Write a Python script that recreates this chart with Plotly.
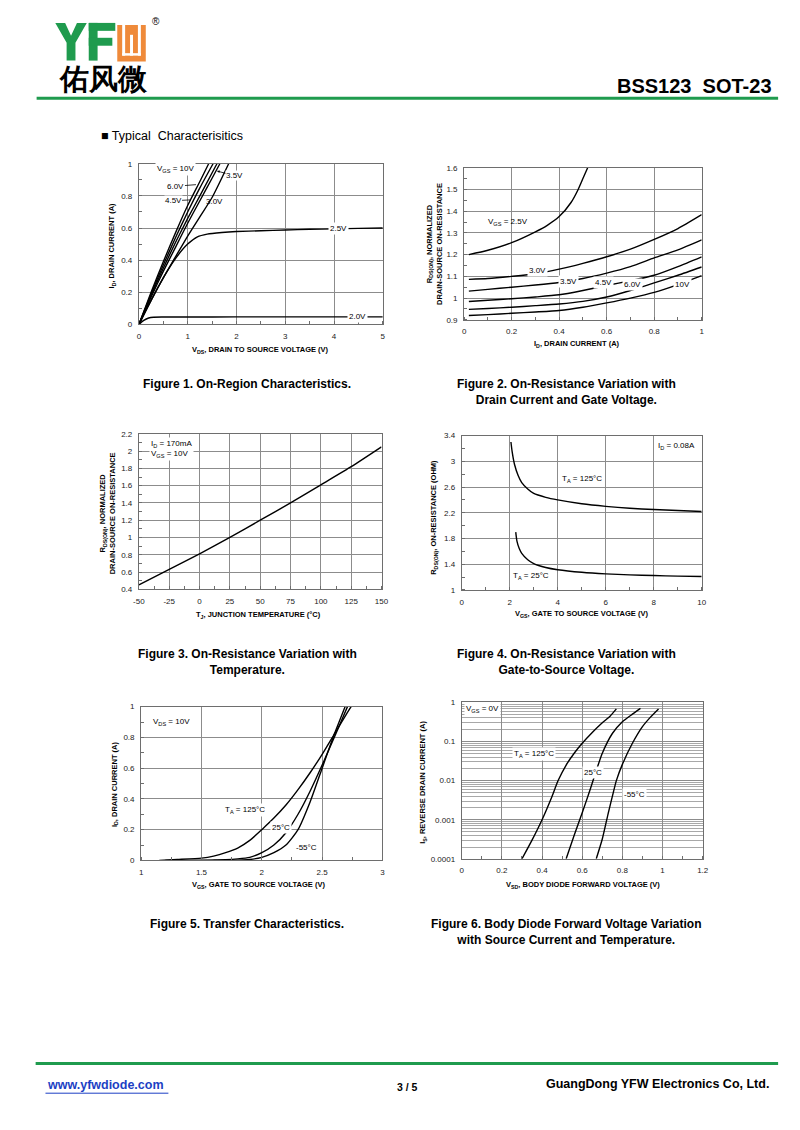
import plotly.graph_objects as go

# The page body keeps the browser's 8px margin, so the figure is 16px smaller than the
# window and every reference pixel position is shifted by that margin.
PAGE_W, PAGE_H = 800, 1130
MARGIN = 8
W, H = PAGE_W - 2 * MARGIN, PAGE_H - 2 * MARGIN
FONT = "Arial, Liberation Sans, Helvetica, sans-serif"
GRID = "#8c8c8c"
FRAME = "#6e6e6e"

def fx(px):
    return (px - MARGIN) / W

def fy(py):
    return 1 - (py - MARGIN) / H

# ---------------- Figure 1 data: On-Region Characteristics ----------------
f1_v10_x = [0, 0.25, 0.5, 0.75, 1.0, 1.25, 1.43]
f1_v10_y = [0, 0.20, 0.39, 0.57, 0.74, 0.89, 1.0]
f1_v6_x = [0, 0.25, 0.5, 0.75, 1.0, 1.25, 1.52]
f1_v6_y = [0, 0.19, 0.37, 0.54, 0.70, 0.85, 1.0]
f1_v45_x = [0, 0.25, 0.5, 0.75, 1.0, 1.25, 1.60]
f1_v45_y = [0, 0.18, 0.35, 0.51, 0.66, 0.80, 1.0]
f1_v35_x = [0, 0.25, 0.5, 0.75, 1.0, 1.25, 1.5, 1.66]
f1_v35_y = [0, 0.17, 0.33, 0.48, 0.63, 0.77, 0.91, 1.0]
f1_v30_x = [0, 0.25, 0.5, 0.75, 1.0, 1.25, 1.5, 1.84]
f1_v30_y = [0, 0.15, 0.29, 0.42, 0.55, 0.67, 0.79, 1.0]
f1_v25_x = [0, 0.25, 0.5, 0.75, 1.0, 1.2, 1.4, 1.7, 2.0, 2.5, 3.0, 3.5, 4.0, 4.5, 5.0]
f1_v25_y = [0, 0.15, 0.29, 0.41, 0.50, 0.545, 0.562, 0.572, 0.578, 0.583, 0.588, 0.592, 0.595, 0.598, 0.60]
f1_v20_x = [0, 0.1, 0.2, 0.3, 0.5, 1.0, 2.0, 3.0, 4.0, 5.0]
f1_v20_y = [0, 0.025, 0.040, 0.045, 0.046, 0.046, 0.047, 0.047, 0.047, 0.047]

# ---------------- Figure 2 data: Normalized Rds(on) vs Id ----------------
f2_x = [0.02, 0.1, 0.2, 0.3, 0.4, 0.5, 0.6, 0.7, 0.8, 0.9, 1.0]
f2_v25_x = [0.02, 0.1, 0.2, 0.3, 0.35, 0.4, 0.45, 0.48, 0.5, 0.52]
f2_v25_y = [1.20, 1.22, 1.255, 1.305, 1.335, 1.375, 1.44, 1.50, 1.55, 1.60]
f2_v30_y = [1.086, 1.09, 1.10, 1.112, 1.133, 1.16, 1.19, 1.225, 1.27, 1.32, 1.384]
f2_v35_y = [1.032, 1.04, 1.05, 1.06, 1.072, 1.09, 1.115, 1.145, 1.185, 1.222, 1.268]
f2_v45_y = [0.984, 0.99, 0.997, 1.005, 1.015, 1.035, 1.058, 1.08, 1.105, 1.145, 1.19]
f2_v6_y = [0.948, 0.952, 0.958, 0.965, 0.973, 0.985, 1.005, 1.035, 1.07, 1.105, 1.143]
f2_v10_y = [0.92, 0.924, 0.93, 0.936, 0.943, 0.958, 0.978, 1.0, 1.026, 1.062, 1.103]

# ---------------- Figure 3 data: Rds(on) vs temperature ----------------
f3_t = [-50, -25, 0, 25, 50, 75, 100, 125, 150]
f3_r = [0.45, 0.63, 0.81, 1.0, 1.2, 1.4, 1.61, 1.82, 2.05]

# ---------------- Figure 4 data: Rds(on) vs Vgs ----------------
f4_125_x = [2.05, 2.1, 2.2, 2.35, 2.5, 2.75, 3.0, 3.5, 4.0, 5.0, 6.0, 7.0, 8.0, 9.0, 10.0]
f4_125_y = [3.30, 3.15, 2.95, 2.78, 2.67, 2.57, 2.50, 2.44, 2.40, 2.34, 2.30, 2.27, 2.25, 2.235, 2.22]
f4_25_x = [2.25, 2.3, 2.4, 2.5, 2.75, 3.0, 3.5, 4.0, 5.0, 6.0, 7.0, 8.0, 9.0, 10.0]
f4_25_y = [1.90, 1.76, 1.64, 1.57, 1.47, 1.41, 1.35, 1.315, 1.275, 1.25, 1.235, 1.225, 1.215, 1.21]

# ---------------- Figure 5 data: Transfer characteristics ----------------
f5_125_x = [1.15, 1.3, 1.5, 1.6, 1.7, 1.8, 1.9, 2.0, 2.1, 2.2, 2.3, 2.4, 2.5, 2.6, 2.7, 2.74]
f5_125_y = [0.0, 0.006, 0.015, 0.028, 0.05, 0.08, 0.13, 0.20, 0.275, 0.36, 0.46, 0.57, 0.69, 0.82, 0.95, 1.0]
f5_25_x = [1.2, 1.5, 1.7, 1.8, 1.9, 2.0, 2.1, 2.2, 2.3, 2.4, 2.5, 2.6, 2.65, 2.71]
f5_25_y = [0.0, 0.002, 0.005, 0.01, 0.02, 0.05, 0.10, 0.18, 0.30, 0.45, 0.62, 0.80, 0.89, 1.0]
f5_55_x = [1.6, 1.8, 1.9, 2.0, 2.1, 2.2, 2.3, 2.4, 2.5, 2.6, 2.65, 2.69]
f5_55_y = [0.0, 0.002, 0.006, 0.02, 0.05, 0.10, 0.20, 0.38, 0.60, 0.82, 0.92, 1.0]

# ---------------- Figure 6 data: Body diode forward voltage ----------------
f6_125_x = [0.30, 0.35, 0.40, 0.45, 0.48, 0.52, 0.56, 0.60, 0.65, 0.70, 0.74, 0.77]
f6_125_y = [1e-4, 3e-4, 1e-3, 4e-3, 1e-2, 2.5e-2, 5e-2, 0.09, 0.17, 0.30, 0.45, 0.68]
f6_25_x = [0.52, 0.56, 0.60, 0.64, 0.67, 0.70, 0.75, 0.80, 0.85, 0.89]
f6_25_y = [1e-4, 4e-4, 1.5e-3, 6e-3, 1.8e-2, 5e-2, 0.16, 0.32, 0.50, 0.70]
f6_55_x = [0.67, 0.70, 0.73, 0.755, 0.77, 0.80, 0.85, 0.90, 0.94, 0.98]
f6_55_y = [1e-4, 3.2e-4, 1.5e-3, 5e-3, 1e-2, 2.6e-2, 0.09, 0.24, 0.42, 0.68]

# ---------------- Layout geometry (page pixels) ----------------
boxes = {
    1: ((135, 383), (161, 323)),
    2: ((465.7, 707.3), (165, 318.3)),
    3: ((135, 381.7), (433.3, 590)),
    4: ((463.3, 707.3), (435, 590.7)),
    5: ((137.3, 382.7), (708.3, 863.3)),
    6: ((463.3, 708.3), (704, 861.7)),
}

fig = go.Figure()

def line(n, x, y, w=1.4):
    sfx = "" if n == 1 else str(n)
    fig.add_trace(go.Scatter(x=x, y=y, mode="lines", xaxis="x" + sfx, yaxis="y" + sfx,
                             line=dict(color="black", width=w, shape="spline", smoothing=0.6),
                             showlegend=False, hoverinfo="skip"))

line(1, f1_v10_x, f1_v10_y)
line(1, f1_v6_x, f1_v6_y)
line(1, f1_v45_x, f1_v45_y)
line(1, f1_v35_x, f1_v35_y)
line(1, f1_v30_x, f1_v30_y)
line(1, f1_v25_x, f1_v25_y)
line(1, f1_v20_x, f1_v20_y)

line(2, f2_v25_x, f2_v25_y)
line(2, f2_x, f2_v30_y)
line(2, f2_x, f2_v35_y)
line(2, f2_x, f2_v45_y)
line(2, f2_x, f2_v6_y)
line(2, f2_x, f2_v10_y)

line(3, f3_t, f3_r)

line(4, f4_125_x, f4_125_y)
line(4, f4_25_x, f4_25_y)

line(5, f5_125_x, f5_125_y)
line(5, f5_25_x, f5_25_y)
line(5, f5_55_x, f5_55_y)

line(6, f6_125_x, f6_125_y)
line(6, f6_25_x, f6_25_y)
line(6, f6_55_x, f6_55_y)

def axis(dom, **kw):
    d = dict(domain=dom, showline=True, linecolor=FRAME, linewidth=1, mirror=True,
             showgrid=True, gridcolor=GRID, gridwidth=1, zeroline=False,
             ticks="outside", ticklen=4, tickcolor="rgba(0,0,0,0)",
             tickfont=dict(family=FONT, size=8, color="#222"), fixedrange=True)
    d.update(kw)
    return d

def minor(dt):
    return dict(ticks="inside", ticklen=3, tickcolor=FRAME, dtick=dt, showgrid=False)

def xdom(n):
    (a, b), _ = boxes[n]
    return [fx(a), fx(b)]

def ydom(n):
    _, (t, bt) = boxes[n]
    return [fy(bt), fy(t)]

lay = {}
lay["xaxis"] = axis(xdom(1), range=[0, 5], dtick=1, tick0=0, anchor="y", minor=minor(0.5))
lay["yaxis"] = axis(ydom(1), range=[0, 1], dtick=0.2, tick0=0, anchor="x", minor=minor(0.1))
lay["xaxis2"] = axis(xdom(2), range=[0, 1], dtick=0.2, tick0=0, anchor="y2", minor=minor(0.1))
lay["yaxis2"] = axis(ydom(2), range=[0.9, 1.6], dtick=0.1, tick0=0.9, anchor="x2", minor=minor(0.05))
f3_ticks = [-50, -25, 0, 25, 50, 75, 100, 125, 150]
f3_ticktext = ["-50", "-25", "0", "25", "50", "75", "100", "125", "150"]
lay["xaxis3"] = axis(xdom(3), range=[-50, 150], tickmode="array", tickvals=f3_ticks, ticktext=f3_ticktext,
                     anchor="y3", minor=dict(ticks="inside", ticklen=3, tickcolor=FRAME, tickmode="linear",
                                             tick0=-50, dtick=12.5, showgrid=False))
lay["yaxis3"] = axis(ydom(3), range=[0.4, 2.2], dtick=0.2, tick0=0.4, anchor="x3", minor=minor(0.1))
lay["xaxis4"] = axis(xdom(4), range=[0, 10], dtick=2, tick0=0, anchor="y4", minor=minor(1))
lay["yaxis4"] = axis(ydom(4), range=[1, 3.4], dtick=0.4, tick0=1, anchor="x4", minor=minor(0.2))
lay["xaxis5"] = axis(xdom(5), range=[1, 3], dtick=0.5, tick0=1, anchor="y5", minor=minor(0.25))
lay["yaxis5"] = axis(ydom(5), range=[0, 1], dtick=0.2, tick0=0, anchor="x5", minor=minor(0.1))
lay["xaxis6"] = axis(xdom(6), range=[0, 1.2], dtick=0.2, tick0=0, anchor="y6", minor=minor(0.1))
f6_tickvals = [1e-4, 1e-3, 1e-2, 1e-1, 1]
f6_ticktext = ["0.0001", "0.001", "0.01", "0.1", "1"]
f6_minor = [m * 10 ** e for e in range(-4, 0) for m in range(2, 10)]
lay["yaxis6"] = axis(ydom(6), type="log", range=[-4, 0], tickmode="array", tickvals=f6_tickvals,
                     ticktext=f6_ticktext, anchor="x6", gridcolor="#8c8c8c",
                     minor=dict(tickmode="array", tickvals=f6_minor, showgrid=True, gridcolor="#a8a8a8",
                                gridwidth=1, ticks=""))

ann = []

def A(text, x, y, n=None, size=8, bold=False, xanchor="center", yanchor="middle", bg=None, angle=0,
      color="black", **kw):
    if n is None:
        xr, yr = "paper", "paper"
    else:
        sfx = "" if n == 1 else str(n)
        xr, yr = "x" + sfx, "y" + sfx
    t = "<b>" + text + "</b>" if bold else text
    d = dict(text=t, x=x, y=y, xref=xr, yref=yr, showarrow=False, xanchor=xanchor, yanchor=yanchor,
             font=dict(family=FONT, size=size, color=color), textangle=angle)
    if bg:
        d["bgcolor"] = bg
        d["borderpad"] = 1
    d.update(kw)
    ann.append(d)

def leader(n, text, hx, hy, tx, ty, head=0):
    sfx = "" if n == 1 else str(n)
    ann.append(dict(text=text, x=hx, y=hy, ax=tx, ay=ty, xref="x" + sfx, yref="y" + sfx,
                    axref="x" + sfx, ayref="y" + sfx, showarrow=True, arrowhead=head, arrowsize=0.7,
                    arrowwidth=0.8, arrowcolor="black", standoff=0, bgcolor="white", borderpad=0,
                    font=dict(family=FONT, size=8, color="black")))

# ---- Header ----
A("佑风微", fx(99), fy(76), size=29, bold=True)
A("®", fx(152), fy(18), size=10)
A("BSS123  SOT-23", fx(781), fy(83), size=20, bold=True, xanchor="right")
A("■ Typical  Characterisitics", fx(94), fy(133), size=12.5, xanchor="left")

# ---- Figure 1 annotations ----
A("V<sub>GS</sub> = 10V", 0.75, 0.965, n=1, bg="white")
leader(1, "6.0V", 1.17, 0.87, 0.76, 0.86)
leader(1, "4.5V", 1.05, 0.775, 0.70, 0.77)
A("3.0V", 1.55, 0.765, n=1)
leader(1, "3.5V", 1.60, 0.955, 1.96, 0.925, head=2)
A("2.5V", 4.09, 0.60, n=1, bg="white")
A("2.0V", 4.49, 0.05, n=1, bg="white")
A("V<sub>DS</sub>, DRAIN TO SOURCE VOLTAGE (V)", fx(259), fy(349), size=7.5, bold=True)
A("I<sub>D</sub>, DRAIN CURRENT (A)", fx(108), fy(243), size=7.5, bold=True, angle=-90)

# ---- Figure 2 annotations ----
A("V<sub>GS</sub> = 2.5V", 0.185, 1.349, n=2)
A("3.0V", 0.31, 1.126, n=2, bg="white")
A("3.5V", 0.44, 1.075, n=2, bg="white")
A("4.5V", 0.585, 1.07, n=2, bg="white")
A("6.0V", 0.708, 1.063, n=2, bg="white")
A("10V", 0.92, 1.063, n=2, bg="white")
A("I<sub>D</sub>, DRAIN CURRENT (A)", fx(580), fy(343), size=7.5, bold=True)
A("R<sub>DS(ON)</sub>, NORMALIZED<br>DRAIN-SOURCE ON-RESISTANCE", fx(435), fy(242), size=7.5, bold=True, angle=-90)

# ---- Figure 3 annotations ----
A("I<sub>D</sub> = 170mA<br>V<sub>GS</sub> = 10V", -42, 2.02, n=3, xanchor="left", bg="white", align="left")
A("T<sub>J</sub>, JUNCTION TEMPERATURE (°C)", fx(257), fy(616), size=7.5, bold=True)
A("R<sub>DS(ON)</sub>, NORMALIZED<br>DRAIN-SOURCE ON-RESISTANCE", fx(104), fy(513), size=7.5, bold=True, angle=-90)

# ---- Figure 4 annotations ----
A("I<sub>D</sub> = 0.08A", 8.95, 3.24, n=4)
A("T<sub>A</sub> = 125°C", 5.0, 2.72, n=4)
A("T<sub>A</sub> = 25°C", 2.9, 1.22, n=4)
A("V<sub>GS</sub>, GATE TO SOURCE VOLTAGE (V)", fx(585), fy(615), size=7.5, bold=True)
A("R<sub>DS(ON)</sub>, ON-RESISTANCE (OHM)", fx(435), fy(517), size=7.5, bold=True, angle=-90)

# ---- Figure 5 annotations ----
A("V<sub>DS</sub> = 10V", 1.25, 0.9, n=5)
A("T<sub>A</sub> = 125°C", 1.86, 0.33, n=5, bg="white")
A("25°C", 2.16, 0.215, n=5, bg="white")
A("-55°C", 2.37, 0.085, n=5)
A("V<sub>GS</sub>, GATE TO SOURCE VOLTAGE (V)", fx(257), fy(888), size=7.5, bold=True)
A("I<sub>D</sub>, DRAIN CURRENT (A)", fx(110), fy(786), size=7.5, bold=True, angle=-90)

# ---- Figure 6 annotations (log y -> log10 positions) ----
A("V<sub>GS</sub> = 0V", 0.012, -0.18, n=6, xanchor="left", bg="white")
A("T<sub>A</sub> = 125°C", 0.36, -1.32, n=6, bg="white")
A("25°C", 0.653, -1.8, n=6, bg="white")
A("-55°C", 0.862, -2.35, n=6, bg="white")
A("V<sub>SD</sub>, BODY DIODE FORWARD VOLTAGE (V)", fx(587), fy(888), size=7.5, bold=True)
A("I<sub>S</sub>, REVERSE DRAIN CURRENT (A)", fx(424), fy(785), size=7.5, bold=True, angle=-90)

# ---- Captions ----
A("Figure 1. On-Region Characteristics.", fx(245), fy(383), size=12, bold=True)
A("Figure 2. On-Resistance Variation with<br>Drain Current and Gate Voltage.", fx(570), fy(391), size=12, bold=True)
A("Figure 3. On-Resistance Variation with<br>Temperature.", fx(245), fy(663), size=12, bold=True)
A("Figure 4. On-Resistance Variation with<br>Gate-to-Source Voltage.", fx(570), fy(663), size=12, bold=True)
A("Figure 5. Transfer Characteristics.", fx(245), fy(927), size=12, bold=True)
A("Figure 6. Body Diode Forward Voltage Variation<br>with Source Current and Temperature.", fx(570), fy(935),
  size=12, bold=True)

# ---- Footer ----
A("www.yfwdiode.com", fx(40), fy(1090), size=12.5, bold=True, xanchor="left", color="#1c3fc4")
A("3 / 5", fx(408), fy(1092), size=10.5, bold=True)
A("GuangDong YFW Electronics Co, Ltd.", fx(778), fy(1089), size=12.5, bold=True, xanchor="right")

shapes = []

def rect(x0, y0, x1, y1, color):
    shapes.append(dict(type="rect", xref="paper", yref="paper", x0=fx(x0), x1=fx(x1), y0=fy(y1), y1=fy(y0),
                       fillcolor=color, line=dict(width=0), layer="above"))

def path(pts, color):
    s = "M" + " L".join(f"{fx(a):.5f},{fy(b):.5f}" for a, b in pts) + " Z"
    shapes.append(dict(type="path", xref="paper", yref="paper", path=s, fillcolor=color,
                       line=dict(width=0), layer="above"))

GREEN = "#1f9b4e"
ORANGE = "#ef8a3a"
# Logo "Y"
path([(50, 19), (60, 19), (66, 32), (72, 19), (82, 19), (70.5, 39), (70.5, 57), (61.5, 57), (61.5, 39)], GREEN)
# Logo "F"
rect(84, 19, 93, 57, GREEN)
rect(84, 19, 111, 27, GREEN)
rect(84, 34, 108, 42, GREEN)
# Logo orange block
rect(113, 21, 142, 58, ORANGE)
rect(118, 21, 121, 52, "white")
rect(134, 21, 137, 52, "white")
rect(118, 49.5, 137, 52, "white")
rect(126, 31, 129, 52, "white")

# green rules
shapes.append(dict(type="line", xref="paper", yref="paper", x0=fx(31), x1=fx(785), y0=fy(95), y1=fy(95),
                   line=dict(color=GREEN, width=3)))
shapes.append(dict(type="line", xref="paper", yref="paper", x0=fx(30), x1=fx(785), y0=fy(1068), y1=fy(1068),
                   line=dict(color=GREEN, width=3)))
# link underline
shapes.append(dict(type="line", xref="paper", yref="paper", x0=fx(40), x1=fx(165), y0=fy(1098), y1=fy(1098),
                   line=dict(color="#1c3fc4", width=1)))

fig.update_layout(width=W, height=H, margin=dict(l=0, r=0, t=0, b=0), paper_bgcolor="white",
                  plot_bgcolor="white", showlegend=False, annotations=ann, shapes=shapes,
                  font=dict(family=FONT), **lay)

fig.write_html("out.html", config={"displayModeBar": False, "staticPlot": True})
